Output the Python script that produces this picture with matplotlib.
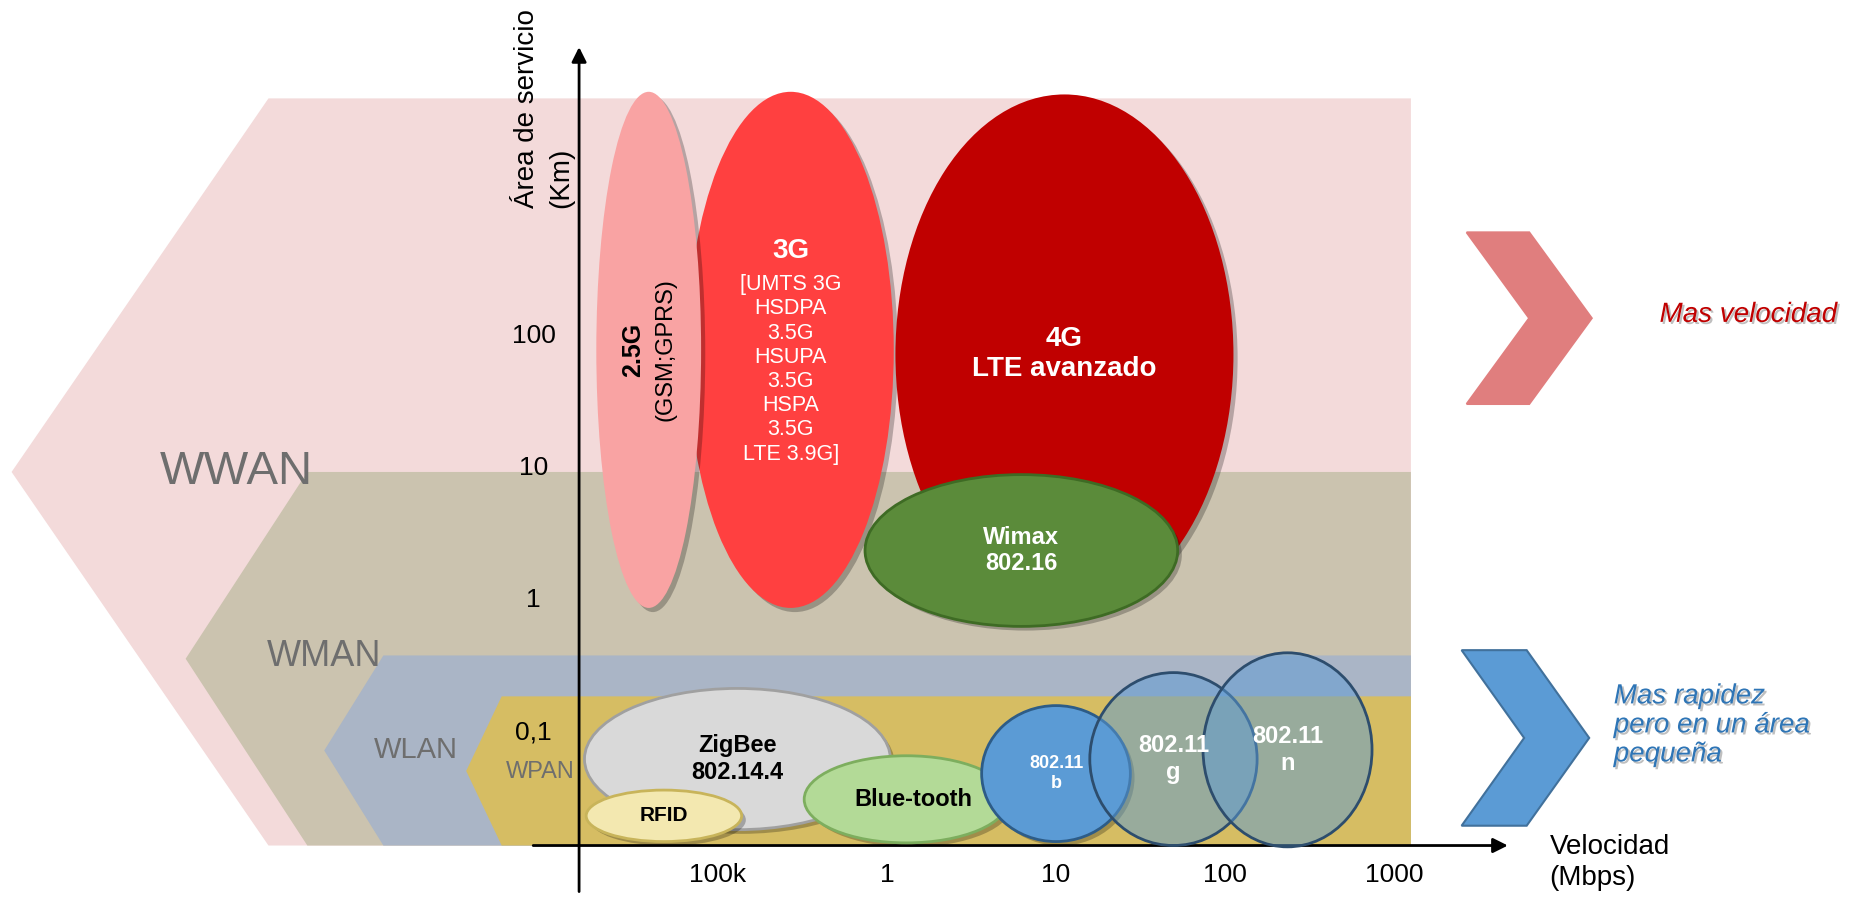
import matplotlib.pyplot as plt
import matplotlib.patheffects as pe
from matplotlib.colors import to_rgba
from matplotlib.patches import Ellipse, Polygon

plt.rcParams['font.family'] = ['Liberation Sans', 'DejaVu Sans']

# Axes are in decades: x = log10(speed, Mbps), y = log10(service area, km)
speed_ticks = [-1, 0, 1, 2, 3]
speed_labels = ['100k', '1', '10', '100', '1000']
area_ticks = [2, 1, 0, -1]
area_labels = ['100', '10', '1', '0,1']

# Network classes (background chevron bands)
bands = ['WWAN', 'WMAN', 'WLAN', 'WPAN']
band_top = [3.80, 0.97, -0.42, -0.73]
band_edge = [-3.66, -3.43, -2.98, -2.28]
band_tip = [-5.18, -4.15, -3.33, -2.49]
band_floor = -1.86
band_right = 3.10

# Technologies: speed range and service area range (decades)
techs = ['3G', '2.5G', '4G', 'Wimax', 'ZigBee', 'RFID', 'Blue-tooth',
         '802.11b', '802.11g', '802.11n']
speed_lo = [-1.18, -1.72, 0.05, -0.13, -1.79, -1.78, -0.49, 0.56, 1.20, 1.87]
speed_hi = [0.04, -1.10, 2.05, 1.72, 0.02, -0.86, 0.72, 1.44, 2.19, 2.87]
area_lo = [-0.06, -0.06, -0.11, -0.20, -1.74, -1.83, -1.84, -1.83, -1.86, -1.87]
area_hi = [3.85, 3.85, 3.83, 0.95, -0.67, -1.44, -1.18, -0.80, -0.55, -0.40]

# Styles
band_colors = ['#F3DADA', '#CBC3AF', '#AAB5C6', '#D6BD63']
band_font = [34, 26, 21, 17]
band_label_pos = [(-3.85, 0.97), (-3.33, -0.43), (-2.79, -1.14), (-2.05, -1.30)]

fill = {'3G': '#FF4040', '2.5G': '#F9A3A3', '4G': '#C00000', 'Wimax': '#5B8B3A',
        'ZigBee': '#D9D9D9', 'RFID': '#F3E8B0', 'Blue-tooth': '#B3DA97',
        '802.11b': '#5B9BD5', '802.11g': '#5B9BD5', '802.11n': '#5B9BD5'}
edge = {'Wimax': '#3E6B24', 'ZigBee': '#A0A0A0', 'RFID': '#C8B45A',
        'Blue-tooth': '#7DAE5E', '802.11b': '#2D5C87', '802.11g': '#2D4D6D',
        '802.11n': '#2D4D6D'}
alpha = {'802.11g': 0.5, '802.11n': 0.5}

fig = plt.figure(figsize=(18.5, 8.97), dpi=100)
ax = fig.add_axes([0, 0, 1, 1])
ax.set_xlim(-887 / 169, (1850 - 887) / 169)
ax.set_ylim((600 - 897) / 132, 600 / 132)
ax.axis('off')

# background bands
for i, name in enumerate(bands):
    mid = (band_top[i] + band_floor) / 2
    pts = [(band_tip[i], mid), (band_edge[i], band_top[i]), (band_right, band_top[i]),
           (band_right, band_floor), (band_edge[i], band_floor)]
    ax.add_patch(Polygon(pts, closed=True, facecolor=band_colors[i], edgecolor='none', zorder=1))
    x, y = band_label_pos[i]
    ax.text(x, y, name, fontsize=band_font[i], color='#6E6E6E', ha='center', va='center', zorder=2)

# axes arrows
ax.annotate('', xy=(-1.822, 4.21), xytext=(-1.822, -2.23),
            arrowprops=dict(arrowstyle='-|>', lw=2, color='black', mutation_scale=22), zorder=4)
ax.annotate('', xy=(3.69, band_floor), xytext=(-2.11, band_floor),
            arrowprops=dict(arrowstyle='-|>', lw=2, color='black', mutation_scale=22), zorder=4)

for t, lab in zip(speed_ticks, speed_labels):
    ax.text(t, -2.08, lab, fontsize=19, ha='center', va='center')
for t, lab in zip(area_ticks, area_labels):
    ax.text(-2.09, t, lab, fontsize=19, ha='center', va='center', zorder=3)

ax.text(-2.03, 2.97, 'Área de servicio\n(Km)', fontsize=20, rotation=90,
        ha='center', va='bottom', multialignment='left', linespacing=1.4)
ax.text(3.92, -1.985, 'Velocidad\n(Mbps)', fontsize=20, ha='left', va='center',
        linespacing=1.25)

# technology ellipses
shadow = [pe.SimplePatchShadow(offset=(3, -3), shadow_rgbFace='black', alpha=0.25), pe.Normal()]
centers = {}
for i, name in enumerate(techs):
    cx = (speed_lo[i] + speed_hi[i]) / 2
    cy = (area_lo[i] + area_hi[i]) / 2
    centers[name] = (cx, cy)
    e = Ellipse((cx, cy), speed_hi[i] - speed_lo[i], area_hi[i] - area_lo[i],
                facecolor=to_rgba(fill[name], alpha.get(name, 1)),
                edgecolor=edge.get(name, 'none'),
                lw=2 if name in edge else 0, zorder=5 + i)
    if name not in alpha:
        e.set_path_effects(shadow)
    ax.add_patch(e)


def label(name, text, size, color='white', weight='bold', dx=0, dy=0, **kw):
    cx, cy = centers[name]
    ax.annotate(text, (cx, cy), xytext=(dx, dy), textcoords='offset points',
                fontsize=size, color=color, weight=weight, ha='center', va='center',
                zorder=30, **kw)


label('3G', '3G', 20, dy=71)
label('3G', '[UMTS 3G\nHSDPA\n3.5G\nHSUPA\n3.5G\nHSPA\n3.5G\nLTE 3.9G]', 15.5,
      weight='normal', dy=-14, linespacing=1.2)
label('2.5G', '2.5G', 18, color='black', dx=-11, rotation=90)
label('2.5G', '(GSM;GPRS)', 17, color='black', weight='normal', dx=12, rotation=90)
label('4G', '4G\nLTE avanzado', 20, linespacing=1.2)
label('Wimax', 'Wimax\n802.16', 17, linespacing=1.2)
label('ZigBee', 'ZigBee\n802.14.4', 17, color='black', linespacing=1.2)
label('RFID', 'RFID', 15, color='black')
label('Blue-tooth', 'Blue-tooth', 17, color='black', dx=5)
label('802.11b', '802.11\nb', 13, linespacing=1.2)
label('802.11g', '802.11\ng', 17, linespacing=1.2)
label('802.11n', '802.11\nn', 17, linespacing=1.2)


# right-hand chevrons
def chevron(x0, y0, w, h, depth, color, ec):
    pts = [(x0, y0 + h), (x0 + w, y0 + h), (x0 + w + depth, y0 + h / 2),
           (x0 + w, y0), (x0, y0), (x0 + depth, y0 + h / 2)]
    ax.add_patch(Polygon(pts, closed=True, facecolor=color, edgecolor=ec, lw=1.5, zorder=2))


chevron(3.43, 1.485, 0.37, 1.30, 0.37, '#E07E7E', '#E07E7E')
chevron(3.40, -1.71, 0.385, 1.33, 0.37, '#5B9BD5', '#41719C')

txt_shadow = [pe.withSimplePatchShadow(offset=(1.5, -1.5), shadow_rgbFace='gray', alpha=0.5)]
ax.text(5.095, 2.16, 'Mas velocidad', fontsize=20, style='italic', color='#C00000',
        ha='center', va='center', path_effects=txt_shadow)
ax.text(4.30, -0.95, 'Mas rapidez\npero en un área\npequeña', fontsize=20, style='italic',
        color='#2E75B6', ha='left', va='center', linespacing=1.15, path_effects=txt_shadow)

fig.savefig('out.png', dpi=100)
